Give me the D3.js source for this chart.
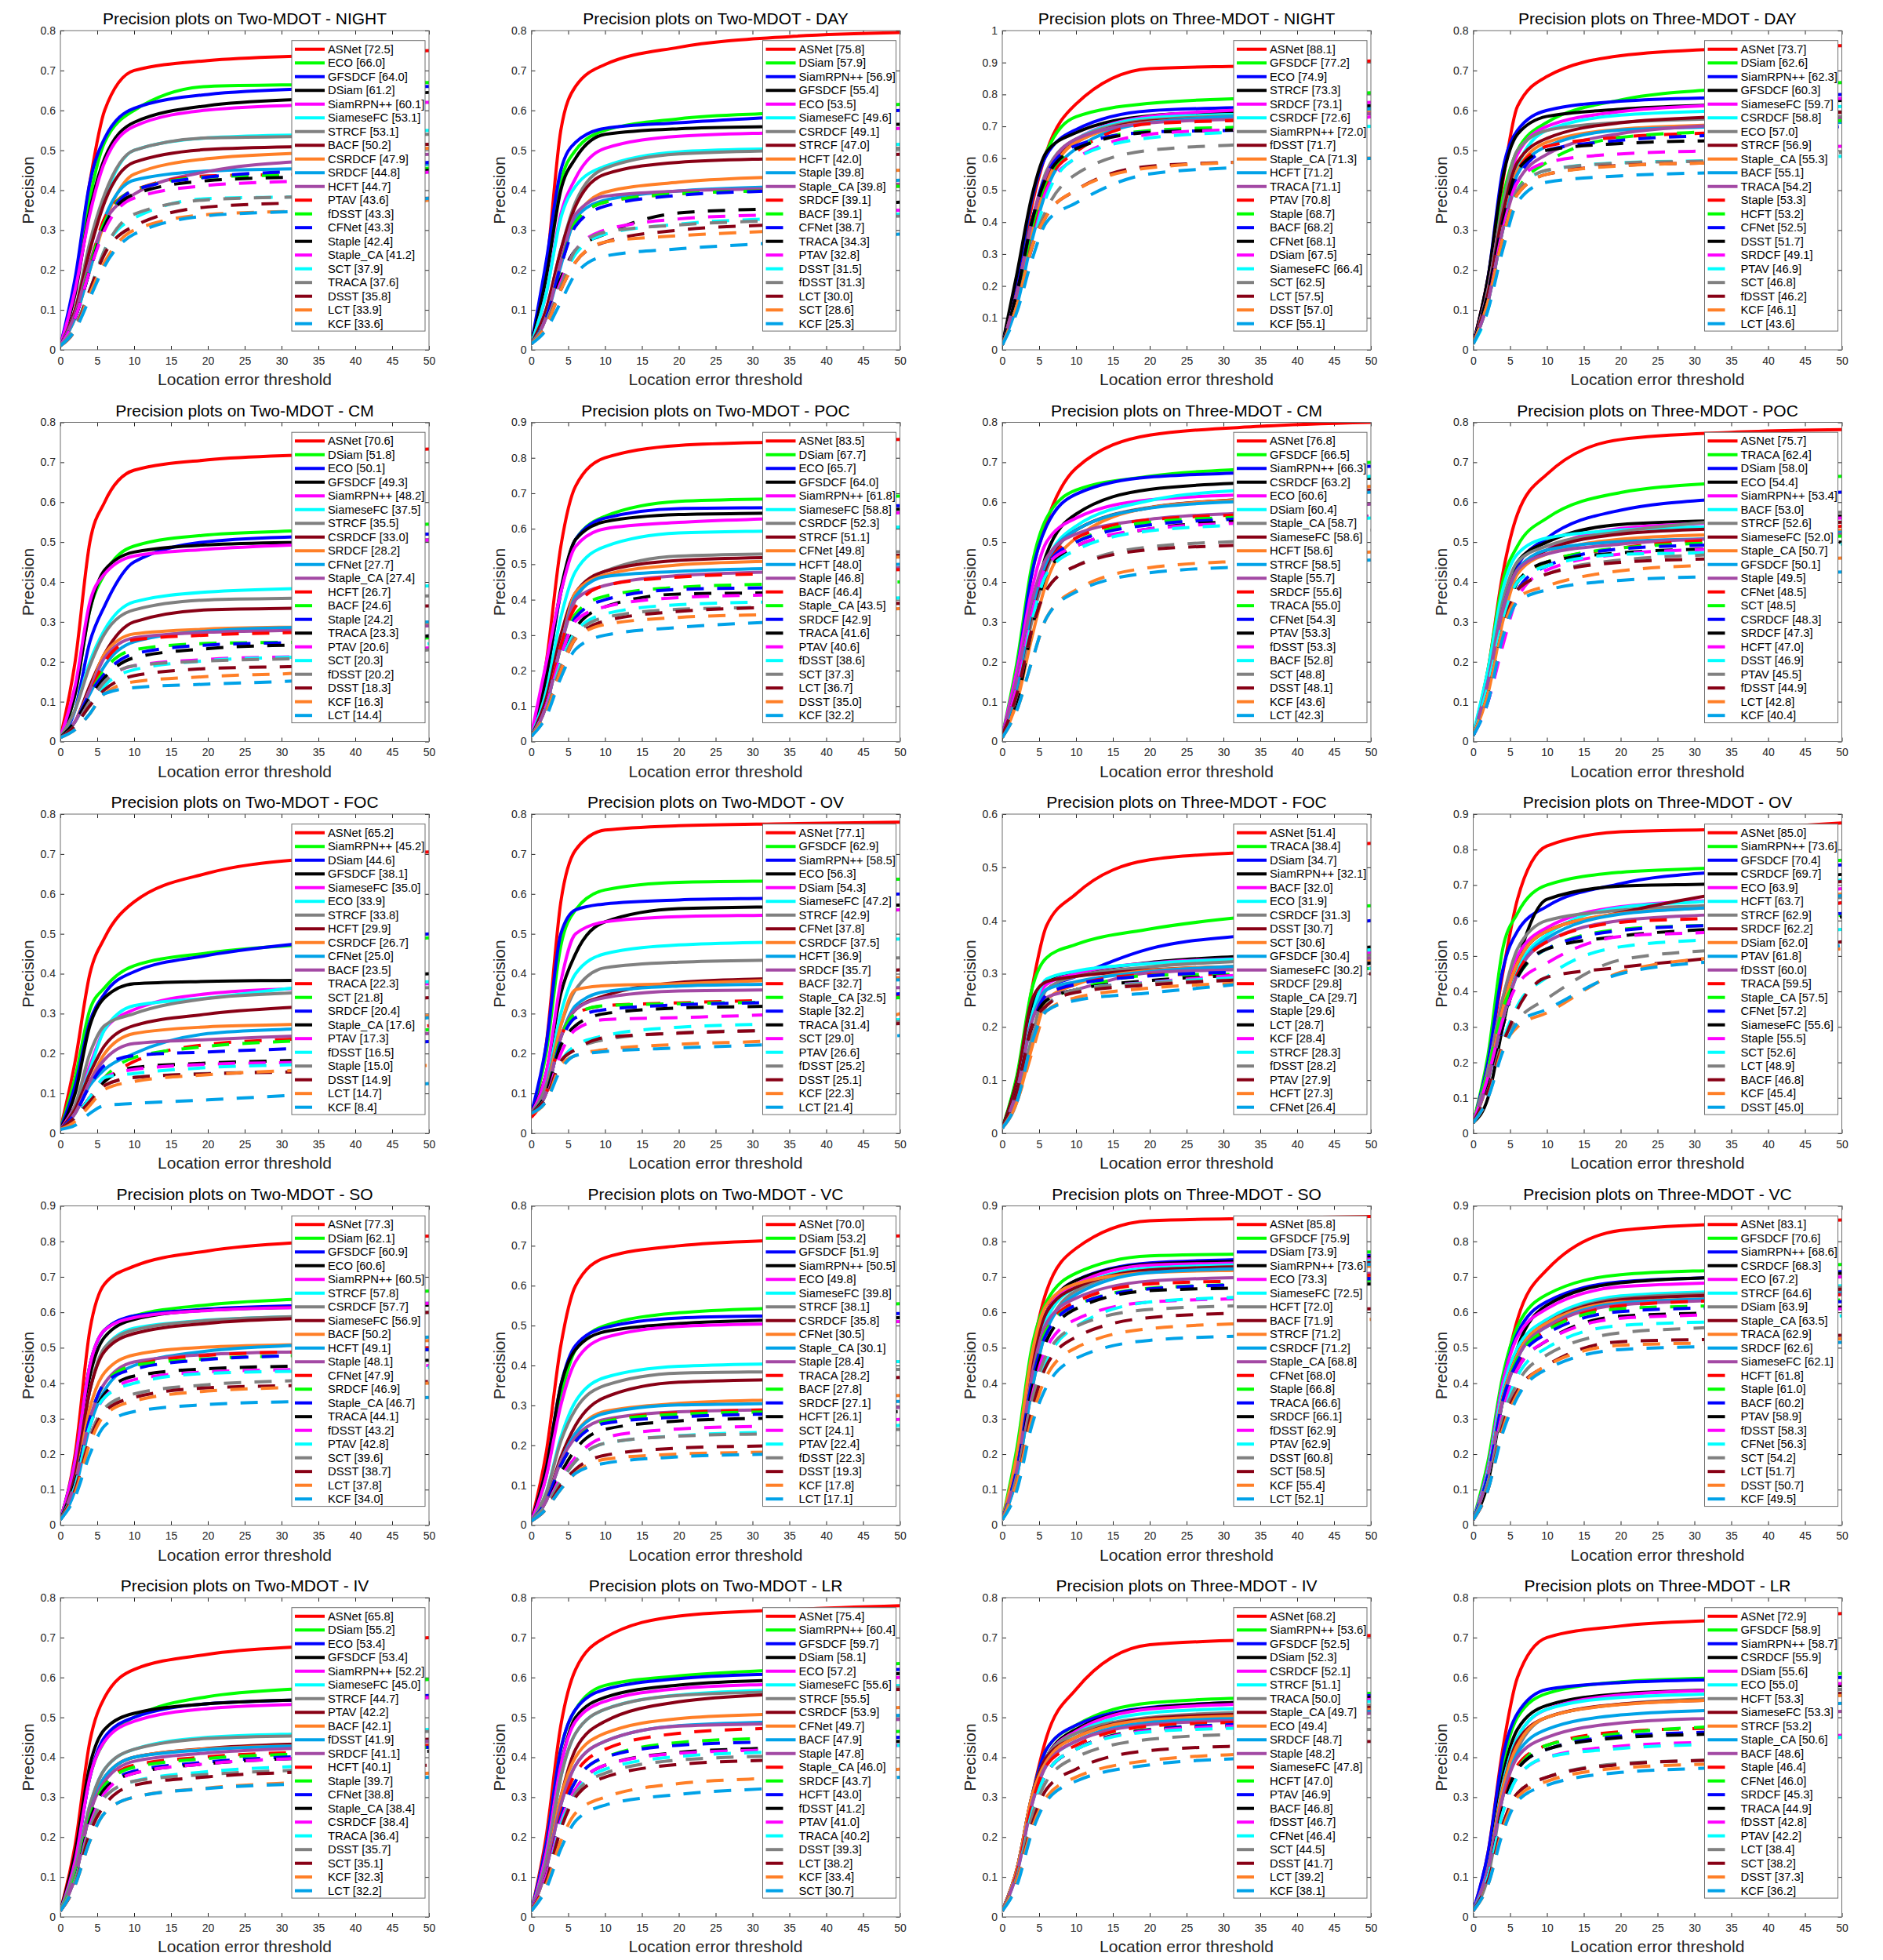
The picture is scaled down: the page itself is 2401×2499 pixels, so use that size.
<!DOCTYPE html>
<html>
<head>
<meta charset="utf-8">
<script src="https://cdn.jsdelivr.net/npm/d3@7"></script>
<style>
  body { margin: 0; background: #fff; }
  text { font-family: "Liberation Sans", Arial, Helvetica, sans-serif; }
</style>
</head>
<body>
<svg width="2401" height="2499"></svg>
<script>
var thresholds = [0, 2, 4, 6, 10, 20, 35, 50];

var titles = [
    "Two-MDOT - NIGHT", "Two-MDOT - DAY", "Three-MDOT - NIGHT", "Three-MDOT - DAY",
    "Two-MDOT - CM", "Two-MDOT - POC", "Three-MDOT - CM", "Three-MDOT - POC",
    "Two-MDOT - FOC", "Two-MDOT - OV", "Three-MDOT - FOC", "Three-MDOT - OV",
    "Two-MDOT - SO", "Two-MDOT - VC", "Three-MDOT - SO", "Three-MDOT - VC",
    "Two-MDOT - IV", "Two-MDOT - LR", "Three-MDOT - IV", "Three-MDOT - LR"
];

var yMaxes = [0.8, 0.8, 1, 0.8, 0.8, 0.9, 0.8, 0.8, 0.8, 0.8, 0.6, 0.9, 0.9, 0.8, 0.9, 0.9, 0.8, 0.8, 0.8, 0.8];

// legend order (rank) for every panel
var trackers = [
    ["ASNet", "ECO", "GFSDCF", "DSiam", "SiamRPN++", "SiameseFC", "STRCF", "BACF", "CSRDCF", "SRDCF", "HCFT", "PTAV", "fDSST", "CFNet", "Staple", "Staple_CA", "SCT", "TRACA", "DSST", "LCT", "KCF"],
    ["ASNet", "DSiam", "SiamRPN++", "GFSDCF", "ECO", "SiameseFC", "CSRDCF", "STRCF", "HCFT", "Staple", "Staple_CA", "SRDCF", "BACF", "CFNet", "TRACA", "PTAV", "DSST", "fDSST", "LCT", "SCT", "KCF"],
    ["ASNet", "GFSDCF", "ECO", "STRCF", "SRDCF", "CSRDCF", "SiamRPN++", "fDSST", "Staple_CA", "HCFT", "TRACA", "PTAV", "Staple", "BACF", "CFNet", "DSiam", "SiameseFC", "SCT", "LCT", "DSST", "KCF"],
    ["ASNet", "DSiam", "SiamRPN++", "GFSDCF", "SiameseFC", "CSRDCF", "ECO", "STRCF", "Staple_CA", "BACF", "TRACA", "Staple", "HCFT", "CFNet", "DSST", "SRDCF", "PTAV", "SCT", "fDSST", "KCF", "LCT"],
    ["ASNet", "DSiam", "ECO", "GFSDCF", "SiamRPN++", "SiameseFC", "STRCF", "CSRDCF", "SRDCF", "CFNet", "Staple_CA", "HCFT", "BACF", "Staple", "TRACA", "PTAV", "SCT", "fDSST", "DSST", "KCF", "LCT"],
    ["ASNet", "DSiam", "ECO", "GFSDCF", "SiamRPN++", "SiameseFC", "CSRDCF", "STRCF", "CFNet", "HCFT", "Staple", "BACF", "Staple_CA", "SRDCF", "TRACA", "PTAV", "fDSST", "SCT", "LCT", "DSST", "KCF"],
    ["ASNet", "GFSDCF", "SiamRPN++", "CSRDCF", "ECO", "DSiam", "Staple_CA", "SiameseFC", "HCFT", "STRCF", "Staple", "SRDCF", "TRACA", "CFNet", "PTAV", "fDSST", "BACF", "SCT", "DSST", "KCF", "LCT"],
    ["ASNet", "TRACA", "DSiam", "ECO", "SiamRPN++", "BACF", "STRCF", "SiameseFC", "Staple_CA", "GFSDCF", "Staple", "CFNet", "SCT", "CSRDCF", "SRDCF", "HCFT", "DSST", "PTAV", "fDSST", "LCT", "KCF"],
    ["ASNet", "SiamRPN++", "DSiam", "GFSDCF", "SiameseFC", "ECO", "STRCF", "HCFT", "CSRDCF", "CFNet", "BACF", "TRACA", "SCT", "SRDCF", "Staple_CA", "PTAV", "fDSST", "Staple", "DSST", "LCT", "KCF"],
    ["ASNet", "GFSDCF", "SiamRPN++", "ECO", "DSiam", "SiameseFC", "STRCF", "CFNet", "CSRDCF", "HCFT", "SRDCF", "BACF", "Staple_CA", "Staple", "TRACA", "SCT", "PTAV", "fDSST", "DSST", "KCF", "LCT"],
    ["ASNet", "TRACA", "DSiam", "SiamRPN++", "BACF", "ECO", "CSRDCF", "DSST", "SCT", "GFSDCF", "SiameseFC", "SRDCF", "Staple_CA", "Staple", "LCT", "KCF", "STRCF", "fDSST", "PTAV", "HCFT", "CFNet"],
    ["ASNet", "SiamRPN++", "GFSDCF", "CSRDCF", "ECO", "HCFT", "STRCF", "SRDCF", "DSiam", "PTAV", "fDSST", "TRACA", "Staple_CA", "CFNet", "SiameseFC", "Staple", "SCT", "LCT", "BACF", "KCF", "DSST"],
    ["ASNet", "DSiam", "GFSDCF", "ECO", "SiamRPN++", "STRCF", "CSRDCF", "SiameseFC", "BACF", "HCFT", "Staple", "CFNet", "SRDCF", "Staple_CA", "TRACA", "fDSST", "PTAV", "SCT", "DSST", "LCT", "KCF"],
    ["ASNet", "DSiam", "GFSDCF", "SiamRPN++", "ECO", "SiameseFC", "STRCF", "CSRDCF", "CFNet", "Staple_CA", "Staple", "TRACA", "BACF", "SRDCF", "HCFT", "SCT", "PTAV", "fDSST", "DSST", "KCF", "LCT"],
    ["ASNet", "GFSDCF", "DSiam", "SiamRPN++", "ECO", "SiameseFC", "HCFT", "BACF", "STRCF", "CSRDCF", "Staple_CA", "CFNet", "Staple", "TRACA", "SRDCF", "fDSST", "PTAV", "DSST", "SCT", "KCF", "LCT"],
    ["ASNet", "GFSDCF", "SiamRPN++", "CSRDCF", "ECO", "STRCF", "DSiam", "Staple_CA", "TRACA", "SRDCF", "SiameseFC", "HCFT", "Staple", "BACF", "PTAV", "fDSST", "CFNet", "SCT", "LCT", "DSST", "KCF"],
    ["ASNet", "DSiam", "ECO", "GFSDCF", "SiamRPN++", "SiameseFC", "STRCF", "PTAV", "BACF", "fDSST", "SRDCF", "HCFT", "Staple", "CFNet", "Staple_CA", "CSRDCF", "TRACA", "DSST", "SCT", "KCF", "LCT"],
    ["ASNet", "SiamRPN++", "GFSDCF", "DSiam", "ECO", "SiameseFC", "STRCF", "CSRDCF", "CFNet", "BACF", "Staple", "Staple_CA", "SRDCF", "HCFT", "fDSST", "PTAV", "TRACA", "DSST", "LCT", "KCF", "SCT"],
    ["ASNet", "SiamRPN++", "GFSDCF", "DSiam", "CSRDCF", "STRCF", "TRACA", "Staple_CA", "ECO", "SRDCF", "Staple", "SiameseFC", "HCFT", "PTAV", "BACF", "fDSST", "CFNet", "SCT", "DSST", "LCT", "KCF"],
    ["ASNet", "GFSDCF", "SiamRPN++", "CSRDCF", "DSiam", "ECO", "HCFT", "SiameseFC", "STRCF", "Staple_CA", "BACF", "Staple", "CFNet", "SRDCF", "TRACA", "fDSST", "PTAV", "LCT", "SCT", "DSST", "KCF"]
];

// precision (%) at each threshold, one row per tracker in legend order
var twoNight = [
    [1, 17, 42, 60, 70, 72.5, 73.8, 75], [1, 15, 38, 52, 60, 66.0, 66.5, 67], [1, 18, 42, 53, 60.5, 64.0, 65.5, 66],
    [1, 14, 35, 48, 57, 61.2, 63, 64.5], [1, 15, 34, 47, 56, 60.1, 61.5, 62], [1, 10, 25, 38, 50, 53.1, 54, 55],
    [1, 10, 27, 39, 50, 53.1, 53.5, 54], [1, 10, 25, 37, 47, 50.2, 51, 51.5], [1, 8, 20, 32, 44, 47.9, 49.5, 50.5],
    [1, 8, 20, 33, 42.5, 44.8, 45.5, 46.5], [1, 9, 22, 32, 39, 44.7, 47.5, 49], [1, 8, 21, 33, 40, 43.6, 44, 45],
    [1, 8, 21, 32, 40, 43.3, 44, 45.5], [1, 8, 20, 31, 40, 43.3, 45, 47], [1, 8, 20, 31, 39, 42.4, 43.5, 45],
    [1, 8, 20, 30, 38, 41.2, 42.5, 44.5], [1, 6, 15, 25, 33, 37.9, 38.5, 42], [1, 6, 15, 25, 34, 37.6, 38.5, 40],
    [1, 5, 15, 24, 31, 35.8, 37, 38], [1, 5, 14, 22, 30, 33.9, 35, 37.5], [1, 5, 13, 21, 29, 33.6, 35, 38]
];
var twoDay = [
    [1.5, 20, 55, 66, 71.5, 75.8, 78.5, 79.5], [1.5, 18, 42, 50, 55, 57.9, 59.5, 61.5], [1.5, 22, 45, 52, 55.5, 56.9, 58.5, 60],
    [1.5, 18, 40, 48, 54, 55.4, 56, 56.5], [1.5, 14, 34, 43, 50.5, 53.5, 54.5, 55.5], [1.5, 14, 33, 41, 46, 49.6, 50.5, 51.5],
    [1.5, 10, 25, 37, 45.5, 49.1, 50, 50.5], [1.5, 10, 25, 36, 44, 47.0, 48, 49], [1.5, 8, 22, 33, 39.5, 42.0, 43.5, 45],
    [1.5, 8, 21, 33, 37.5, 39.8, 41, 42.5], [1.5, 8, 22, 34, 38.5, 39.8, 40.5, 41.5], [1.5, 8, 21, 32, 37, 39.1, 40, 41],
    [1.5, 8, 21, 32, 37, 39.1, 40, 41], [1.5, 8, 21, 31, 36, 38.7, 40, 41.5], [1.5, 7, 18, 25, 29, 34.3, 35.5, 37],
    [1.5, 7, 17, 25, 30, 32.8, 34, 35], [1.5, 7, 16, 24, 29, 31.5, 33, 34], [1.5, 7, 16, 25, 29.5, 31.3, 32.5, 33.5],
    [1.5, 6, 15, 22, 27, 30.0, 31.5, 33], [1.5, 6, 15, 22, 27, 28.6, 30, 32.5], [1.5, 5, 12, 19, 23.5, 25.3, 27, 29]
];
var threeNight = [
    [1.5, 20, 45, 62, 77, 88.1, 89, 90.5], [1.5, 22, 47, 62, 73, 77.2, 79, 80.5], [1.5, 22, 47, 61, 69, 74.9, 76, 76.5],
    [1.5, 24, 48, 62, 68, 73.3, 75, 76.5], [1.5, 18, 40, 55, 66, 73.1, 75.5, 77.5], [1.5, 16, 37, 54, 66, 72.6, 74, 75.5],
    [1.5, 18, 40, 56, 66, 72.0, 73.5, 74.5], [1.5, 18, 40, 54, 65, 71.7, 73, 74], [1.5, 16, 37, 52, 65, 71.3, 73, 74.5],
    [1.5, 14, 34, 50, 63, 71.2, 73.5, 75.5], [1.5, 18, 40, 55, 66, 71.1, 72.5, 74], [1.5, 16, 37, 52, 62, 70.8, 72, 73],
    [1.5, 16, 38, 53, 63, 68.7, 70, 72], [1.5, 18, 40, 55, 64, 68.2, 69, 72], [1.5, 18, 40, 54, 63, 68.1, 69, 70],
    [1.5, 14, 32, 50, 60, 67.5, 69.5, 73], [1.5, 14, 32, 48, 60, 66.4, 68.5, 70], [1.5, 14, 32, 44, 55, 62.5, 64.5, 66],
    [1.5, 14, 32, 42, 50, 57.5, 59, 60], [1.5, 14, 32, 42, 50, 57.0, 59, 60], [1.5, 12, 28, 40, 46, 55.1, 57.5, 60]
];
var threeDay = [
    [1.5, 18, 42, 61, 68.5, 73.7, 75.5, 76.2], [1.5, 16, 38, 50, 57, 62.6, 65.5, 67], [1.5, 18, 45, 55, 60, 62.3, 63.3, 64],
    [1.5, 18, 43, 54, 58.5, 60.3, 61.5, 62.5], [1.5, 15, 36, 49, 56, 59.7, 61.5, 63], [1.5, 12, 30, 46, 55, 58.8, 60, 61],
    [1.5, 15, 36, 50, 55, 57.0, 58, 58.5], [1.5, 14, 34, 47, 53, 56.9, 58.5, 59.5], [1.5, 12, 30, 45, 52, 55.3, 56.5, 57.5],
    [1.5, 12, 30, 44, 51, 55.1, 56, 57], [1.5, 12, 30, 42, 49, 54.2, 56.5, 58], [1.5, 12, 30, 45, 51, 53.3, 54.5, 55.5],
    [1.5, 12, 28, 40, 47, 53.2, 55, 57.5], [1.5, 14, 32, 43, 50, 52.5, 54, 56], [1.5, 14, 32, 45, 50, 51.7, 52.5, 53],
    [1.5, 12, 30, 42, 47, 49.1, 50, 51], [1.5, 10, 28, 40, 45, 46.9, 47.5, 48.5], [1.5, 12, 28, 40, 45, 46.8, 47.5, 49.5],
    [1.5, 12, 28, 39, 44, 46.2, 47, 48.5], [1.5, 12, 28, 39, 44, 46.1, 47, 48], [1.5, 10, 25, 37, 42, 43.6, 44.5, 45.5]
];
var twoCM = [
    [1, 20, 50, 60, 68, 70.6, 72, 73.3], [1, 12, 33, 42, 49, 51.8, 53, 54.5], [1, 8, 25, 34, 45, 50.1, 51.5, 52],
    [1, 12, 33, 43, 47.5, 49.3, 50, 50.5], [1, 14, 35, 42, 46.5, 48.2, 49.5, 50.5], [1, 8, 20, 28, 35, 37.5, 38.5, 39],
    [1, 8, 19, 27, 33, 35.5, 36, 36.5], [1, 5, 14, 22, 30, 33.0, 33.5, 34], [1, 5, 13, 22, 27, 28.2, 28.8, 29.5],
    [1, 5, 12, 19, 25, 27.7, 28.8, 30], [1, 5, 13, 21, 26, 27.4, 28, 29], [1, 5, 12, 20, 25.5, 26.7, 27.5, 28.5],
    [1, 5, 12, 18, 23, 24.6, 25, 26], [1, 5, 12, 17, 22, 24.2, 25, 26.5], [1, 5, 11, 16, 21, 23.3, 24.5, 26.5],
    [1, 4, 10, 15, 19, 20.6, 21.5, 23.5], [1, 4, 9, 14, 18, 20.3, 21.5, 24.5], [1, 4, 10, 15, 19, 20.2, 21, 23],
    [1, 4, 9, 13, 16.5, 18.3, 19, 22], [1, 3, 7, 12, 15, 16.3, 17.5, 21], [1, 3, 7, 12, 13.5, 14.4, 15.5, 18]
];
var twoPOC = [
    [1.5, 22, 55, 72, 80, 83.5, 84.5, 85.2], [1.5, 18, 42, 57, 63.5, 67.7, 68.5, 69.2], [1.5, 18, 42, 57, 63, 65.7, 66, 66.5],
    [1.5, 18, 43, 57, 62, 64.0, 64.5, 65.5], [2, 22, 42, 55, 60, 61.8, 63, 64.5], [1.5, 14, 35, 48, 55, 58.8, 59.5, 60.5],
    [1.5, 10, 27, 40, 48, 52.3, 53, 53.5], [1.5, 12, 30, 42, 48, 51.1, 52, 52.5], [1.5, 10, 27, 42, 47, 49.8, 51, 52],
    [1.5, 10, 27, 41, 46.5, 48.0, 49, 50], [1.5, 10, 27, 40, 44, 46.8, 48, 49], [1.5, 10, 27, 38, 44, 46.4, 47.5, 48.5],
    [1.5, 10, 24, 36, 41, 43.5, 44.5, 45], [1.5, 10, 24, 35, 40, 42.9, 43.5, 44.5], [1.5, 10, 22, 32, 38, 41.6, 42, 42.5],
    [1.5, 10, 24, 34, 38, 40.6, 41.5, 42.5], [1.5, 9, 22, 31, 36, 38.6, 39.5, 40.5], [1.5, 9, 21, 30, 35, 37.3, 38, 39],
    [1.5, 8, 20, 29, 34, 36.7, 38, 39], [1.5, 8, 20, 29, 33, 35.0, 36, 37.5], [1.5, 7, 18, 26, 30, 32.2, 34, 36]
];
var threeCM = [
    [1.5, 18, 42, 55, 68.5, 76.8, 79, 80], [1.5, 20, 44, 56, 63, 66.5, 68.5, 70], [1.5, 18, 42, 54, 62, 66.3, 67.5, 69],
    [1, 12, 32, 47, 57, 63.2, 65, 66], [1.5, 18, 38, 50, 56, 60.6, 62, 63], [1.5, 14, 33, 45, 54, 60.4, 63.5, 66.5],
    [1, 12, 30, 43, 53, 58.7, 61, 63], [1, 14, 32, 44, 53, 58.6, 61, 63], [1, 10, 26, 40, 51, 58.6, 61, 64],
    [1.5, 14, 33, 45, 53, 58.5, 60.5, 62.5], [1.5, 16, 35, 46, 52, 55.7, 57.5, 59.5], [1.5, 14, 32, 44, 51, 55.6, 57, 58],
    [1.5, 14, 32, 44, 50, 55.0, 56.5, 58.5], [1.5, 14, 32, 44, 50, 54.3, 56, 57], [1, 10, 28, 42, 49, 53.3, 55.5, 56.5],
    [1.5, 14, 32, 44, 49, 53.3, 55, 56.5], [1.5, 12, 30, 42, 48, 52.8, 54.5, 56], [1.5, 12, 28, 38, 44, 48.8, 50.5, 53],
    [1.5, 12, 28, 38, 44, 48.1, 49.5, 52], [1, 8, 20, 31, 38, 43.6, 45.5, 47.5], [1, 8, 20, 31, 37.5, 42.3, 44, 45.5]
];
var threePOC = [
    [1.5, 18, 42, 57, 67, 75.7, 77.5, 78.2], [1.5, 18, 40, 49, 56, 62.4, 65, 66.5], [1.5, 15, 34, 44, 51, 58.0, 61, 62.5],
    [1.5, 14, 34, 45, 50, 54.4, 55.5, 56.5], [1.5, 15, 33, 43, 48, 53.4, 55, 56], [2, 18, 38, 47, 51, 53.0, 54, 55],
    [1.5, 15, 35, 45, 49, 52.6, 55.5, 57.5], [1.5, 14, 33, 43, 48, 52.0, 53.5, 55], [1.5, 12, 30, 42, 47, 50.7, 52, 53],
    [1.5, 15, 33, 43, 48, 50.1, 51, 52.5], [1.5, 15, 33, 43, 47, 49.5, 51, 52], [1.5, 12, 30, 40, 45, 48.5, 51, 54],
    [1.5, 12, 28, 40, 45, 48.5, 50, 51.5], [1.5, 10, 25, 38, 44, 48.3, 49.5, 51], [1.5, 12, 28, 40, 45, 47.3, 48.5, 50],
    [1.5, 10, 24, 36, 43, 47.0, 48.5, 50.5], [1.5, 14, 30, 40, 44, 46.9, 47.5, 49.5], [1.5, 12, 28, 38, 42, 45.5, 47, 48],
    [1.5, 12, 28, 38, 42, 44.9, 46, 47.5], [1.5, 12, 28, 36, 39, 42.8, 44.5, 46], [1.5, 10, 26, 35, 38, 40.4, 41.5, 42.5]
];
var twoFOC = [
    [1, 18, 40, 49, 58, 65.2, 69, 70.5], [1, 14, 31, 36.5, 42, 45.2, 47.5, 49], [1, 12, 28, 35, 40.5, 44.6, 48, 50],
    [1, 10, 27, 34, 37.5, 38.1, 38.5, 40], [1, 7, 17, 26, 31, 35.0, 36.5, 37.5], [1, 6, 16, 26, 32, 33.9, 37, 38],
    [1, 7, 20, 27, 30, 33.8, 35.5, 36.5], [1, 6, 15, 22, 27, 29.9, 32, 34], [1, 5, 13, 20, 25, 26.7, 27.5, 29.5],
    [1, 5, 12, 16, 20, 25.0, 26.5, 29], [1, 5, 13, 18.5, 22.5, 23.5, 24.5, 25], [1, 4, 9, 13, 18, 22.3, 24, 27],
    [1, 4, 9, 14, 19, 21.8, 23.5, 26], [1, 5, 12, 17, 19.5, 20.4, 21.5, 23], [1, 4, 9, 13, 16.5, 17.6, 18.5, 20],
    [1, 4, 9, 14, 16, 17.3, 18, 20], [1, 4, 9, 14, 15, 16.5, 17.5, 20], [1, 4, 8, 12, 14, 15.0, 15.5, 16],
    [1, 4, 8, 12, 14, 14.9, 15.5, 16], [1, 3, 7, 11, 13, 14.7, 16, 17], [1, 2, 5, 7, 7.5, 8.4, 10, 12.5]
];
var twoOV = [
    [4, 22, 58, 71, 76, 77.1, 77.6, 78], [5, 20, 47, 56, 61, 62.9, 63.3, 63.7], [5, 22, 50, 56, 57.5, 58.5, 59, 60],
    [5, 15, 35, 45, 53, 56.3, 56.8, 57.2], [5, 15, 38, 50, 53, 54.3, 54.8, 56], [5, 12, 30, 40, 45, 47.2, 48, 48.7],
    [5, 12, 27, 36, 41.5, 42.9, 43.5, 44], [5, 10, 24, 31, 34.5, 37.8, 39, 41], [5, 10, 27, 36, 37, 37.5, 38.5, 39],
    [5, 10, 24, 32, 35.5, 36.9, 37.5, 38.5], [5, 10, 24, 31, 34, 35.7, 36, 36.5], [4, 10, 24, 30, 32, 32.7, 33.5, 34.5],
    [5, 10, 24, 30, 32, 32.5, 33, 34], [5, 10, 23, 29, 31, 32.2, 33, 35], [5, 10, 22, 27, 30, 31.4, 32, 33.5],
    [5, 9, 20, 26, 28.5, 29.0, 30, 32], [5, 9, 18, 22, 24.5, 26.6, 27.5, 28.5], [5, 9, 18, 21, 23.5, 25.2, 26, 28],
    [5, 9, 18, 21, 24, 25.1, 26, 27.5], [5, 8, 17, 19.5, 21, 22.3, 23.5, 30], [5, 8, 16, 19.5, 20.5, 21.4, 22.5, 24.5]
];
var threeFOC = [
    [1, 10, 27, 39, 45, 51.4, 53, 54.5], [1, 11, 27, 33, 35.5, 38.4, 41, 42.8], [1, 8, 22, 27, 29.5, 34.7, 37.5, 40],
    [1, 10, 24, 28.5, 30, 32.1, 33.5, 35], [1, 8, 22, 28, 30, 32.0, 33, 34], [1, 8, 22, 29, 30.5, 31.9, 33, 34.5],
    [1, 6, 18, 27, 29.5, 31.3, 32.5, 33.5], [1, 10, 25, 28.5, 29.5, 30.7, 31.5, 32], [1, 6, 16, 25, 28, 30.6, 31.5, 32.5],
    [1, 8, 21, 27, 28.5, 30.4, 31.5, 32], [1, 8, 21, 25.5, 27, 30.2, 31, 33], [1, 8, 20, 26, 28, 29.8, 30, 31],
    [1, 8, 20, 25, 27, 29.7, 30, 31], [1, 8, 20, 26, 28, 29.6, 30.5, 32], [1, 8, 20, 25, 27, 28.7, 30, 32],
    [1, 7, 18, 24, 27, 28.4, 30, 31], [1, 7, 18, 24, 27, 28.3, 29.5, 31], [1, 7, 18, 24, 27, 28.2, 29, 30],
    [1, 8, 20, 24, 26.5, 27.9, 29, 30], [1, 6, 15, 23, 25.5, 27.3, 28.5, 30.5], [1, 6, 17, 23, 25, 26.4, 28.5, 31.5]
];
var threeOV = [
    [3, 20, 45, 66, 81, 85.0, 85.8, 87.5], [3, 22, 52, 62, 70, 73.6, 75, 77], [3, 20, 46, 57, 64, 70.4, 74, 75.7],
    [3, 10, 30, 48, 66, 69.7, 70.5, 73], [3, 18, 38, 50, 58, 63.9, 66, 69], [3, 15, 32, 46, 56, 63.7, 66, 71.5],
    [3, 18, 38, 52, 60, 62.9, 64.5, 66.5], [3, 15, 35, 48, 57, 62.2, 68, 71], [3, 15, 35, 48, 57, 62.0, 64, 67.5],
    [3, 15, 32, 45, 55, 61.8, 64, 67], [3, 15, 32, 45, 54, 60.0, 62, 65], [3, 15, 32, 45, 54, 59.5, 61, 65],
    [3, 18, 35, 44, 52, 57.5, 59, 61.5], [3, 12, 30, 44, 52, 57.2, 59, 62], [3, 14, 30, 44, 52, 55.6, 58, 61],
    [3, 16, 32, 42, 48, 55.5, 57, 60], [3, 12, 26, 36, 44, 52.6, 55, 57.5], [3, 12, 26, 32, 38, 48.9, 52, 54],
    [3, 12, 25, 35, 44, 46.8, 50, 54], [3, 10, 24, 30, 34, 45.4, 50, 52], [3, 10, 23, 31, 35, 45.0, 49, 53]
];
var twoSO = [
    [1.5, 20, 55, 68, 73, 77.3, 80, 81.5], [1.5, 18, 45, 55, 59, 62.1, 64, 66], [1.5, 18, 45, 55, 59, 60.9, 62, 62.5],
    [1.5, 16, 42, 53, 58, 60.6, 61.5, 62], [1.5, 18, 45, 55, 58.5, 60.5, 61.5, 62.5], [1.5, 14, 38, 50, 55.5, 57.8, 59, 60],
    [1.5, 14, 38, 50, 55, 57.7, 59, 60], [1.5, 14, 38, 49, 54, 56.9, 58.5, 60], [1.5, 12, 33, 43, 48, 50.2, 51, 52],
    [1.5, 10, 28, 38, 45, 49.1, 51, 53], [1.5, 12, 30, 40, 46, 48.1, 49, 50], [1.5, 12, 30, 40, 45, 47.9, 49, 50],
    [1.5, 12, 30, 40, 45, 46.9, 48, 49.5], [1.5, 12, 30, 40, 44, 46.7, 48, 49.5], [1.5, 12, 28, 37, 42, 44.1, 45, 46.5],
    [1.5, 11, 28, 36, 41, 43.2, 44, 45], [1.5, 11, 28, 36, 40, 42.8, 43.5, 44.5], [1.5, 10, 25, 33, 37, 39.6, 41, 43],
    [1.5, 10, 24, 32, 36, 38.7, 39.5, 40.5], [1.5, 9, 23, 31, 35, 37.8, 39, 40], [1.5, 8, 20, 28, 32, 34.0, 35, 36]
];
var twoVC = [
    [1, 18, 45, 60, 67, 70.0, 71.5, 72.5], [1, 12, 32, 44, 50, 53.2, 54.5, 55.5], [1, 14, 35, 45, 49.5, 51.9, 52.5, 53],
    [1, 14, 35, 44, 48.5, 50.5, 51.5, 52], [1, 12, 30, 41, 47, 49.8, 50.5, 51], [1, 8, 22, 31, 37, 39.8, 40.5, 41],
    [1, 8, 21, 29, 35, 38.1, 38.5, 39], [1, 6, 17, 25, 32, 35.8, 36.5, 37], [1, 6, 16, 23, 28.5, 30.5, 31.5, 32.5],
    [1, 6, 16, 23, 28, 30.1, 30.5, 31], [1, 6, 16, 22, 26.5, 28.4, 29, 29.5], [1, 6, 15, 21, 26, 28.2, 29, 30],
    [1, 6, 15, 21, 26, 27.8, 28.5, 29.5], [1, 6, 15, 21, 25.5, 27.1, 28, 29], [1, 5, 13, 19, 24, 26.1, 27, 28.5],
    [1, 5, 12, 17, 22, 24.1, 25, 26.5], [1, 5, 11, 16, 20.5, 22.4, 23.5, 25], [1, 5, 11, 16, 20.5, 22.3, 23, 24],
    [1, 4, 10, 14, 17.5, 19.3, 20, 21], [1, 4, 9, 13, 16.5, 17.8, 18.5, 21], [1, 4, 9, 13, 15.5, 17.1, 18, 20]
];
var threeSO = [
    [1.5, 20, 48, 66, 78, 85.8, 86.5, 87], [1.5, 22, 50, 63, 71, 75.9, 76.5, 77], [1.5, 18, 45, 60, 69, 73.9, 75, 76],
    [1.5, 18, 45, 60, 69, 73.6, 74.5, 75.5], [1.5, 18, 45, 60, 68, 73.3, 74, 75], [1.5, 16, 42, 58, 67, 72.5, 73.5, 74.5],
    [1.5, 14, 38, 55, 66, 72.0, 73, 74], [1.5, 18, 45, 60, 67, 71.9, 73, 74], [1.5, 20, 48, 62, 68, 71.2, 72, 73],
    [1.5, 14, 38, 55, 65, 71.2, 72.5, 73.5], [1.5, 16, 42, 57, 64, 68.8, 70, 71], [1.5, 16, 40, 55, 63, 68.0, 69, 70.5],
    [1.5, 16, 40, 55, 62, 66.8, 68, 69], [1.5, 16, 40, 54, 62, 66.6, 68, 69.5], [1.5, 14, 38, 52, 61, 66.1, 67, 68],
    [1.5, 14, 36, 50, 58, 62.9, 64, 65], [1.5, 12, 32, 46, 56, 62.9, 64.5, 66], [1.5, 14, 35, 48, 56, 60.8, 62, 63],
    [1.5, 12, 32, 45, 53, 58.5, 60, 61], [1.5, 12, 30, 42, 50, 55.4, 57, 58], [1.5, 10, 28, 39, 47, 52.1, 53.5, 55]
];
var threeVC = [
    [1.5, 16, 40, 58, 72, 83.1, 85, 86], [1.5, 18, 42, 56, 65, 70.6, 72, 73.5], [1.5, 16, 40, 54, 63, 68.6, 70, 71.5],
    [1.5, 12, 35, 50, 62, 68.3, 70, 71], [1.5, 16, 40, 53, 61, 67.2, 68.5, 70], [1.5, 15, 38, 50, 58, 64.6, 66, 67.5],
    [1.5, 14, 35, 48, 57, 63.9, 65.5, 67], [1.5, 14, 36, 48, 57, 63.5, 65, 66.5], [1.5, 14, 36, 48, 57, 62.9, 64, 65.5],
    [1.5, 14, 35, 47, 56, 62.6, 64, 65.5], [1.5, 14, 35, 47, 56, 62.1, 63.5, 65], [1.5, 12, 32, 45, 55, 61.8, 63.5, 65],
    [1.5, 14, 35, 47, 55, 61.0, 62, 63.5], [1.5, 14, 35, 46, 54, 60.2, 61.5, 63], [1.5, 12, 32, 44, 52, 58.9, 60, 61.5],
    [1.5, 12, 32, 44, 52, 58.3, 59.5, 61], [1.5, 12, 30, 42, 50, 56.3, 57.5, 59], [1.5, 12, 30, 40, 48, 54.2, 56, 58],
    [1.5, 10, 28, 38, 45, 51.7, 52.5, 53.5], [1.5, 10, 27, 37, 45, 50.7, 51.5, 52.5], [1.5, 10, 26, 36, 44, 49.5, 50.5, 51.5]
];
var twoIV = [
    [1.5, 18, 44, 55, 62, 65.8, 68, 70], [1.5, 14, 35, 44, 50, 55.2, 57.5, 59.5], [1.5, 14, 35, 45, 50, 53.4, 54.5, 55.5],
    [1.5, 16, 38, 47, 51, 53.4, 54.5, 55], [1.5, 14, 35, 44, 49, 52.2, 53.5, 55], [1.5, 12, 28, 37, 42, 45.0, 46, 47],
    [1.5, 12, 28, 37, 42, 44.7, 45.5, 46.5], [1.5, 10, 26, 35, 40, 42.2, 43.5, 44.5], [1.5, 10, 26, 35, 40, 42.1, 43, 44],
    [1.5, 10, 26, 35, 40, 41.9, 43, 44], [1.5, 10, 26, 34, 39, 41.1, 42.5, 44], [1.5, 9, 24, 33, 38, 40.1, 41.5, 43],
    [1.5, 10, 25, 33, 37.5, 39.7, 41, 42.5], [1.5, 9, 24, 32, 36.5, 38.8, 40.5, 42.5], [1.5, 9, 24, 32, 36, 38.4, 40, 41.5],
    [1.5, 9, 23, 31, 36, 38.4, 40, 41.5], [1.5, 9, 22, 30, 34, 36.4, 38, 40], [1.5, 9, 22, 30, 34, 35.7, 37, 38.5],
    [1.5, 8, 21, 28, 33, 35.1, 36.5, 38], [1.5, 8, 19, 26, 30, 32.3, 34, 36], [1.5, 8, 19, 26, 30, 32.2, 33.5, 35]
];
var twoLR = [
    [1.5, 20, 48, 62, 70, 75.4, 77, 78], [1.5, 18, 42, 52, 58, 60.4, 62, 63.5], [1.5, 18, 42, 52, 57, 59.7, 61, 62],
    [1.5, 16, 38, 50, 55, 58.1, 59.5, 61], [1.5, 16, 38, 49, 54, 57.2, 58.5, 60], [1.5, 14, 35, 46, 52, 55.6, 57, 58],
    [1.5, 14, 35, 46, 52, 55.5, 56.5, 57.5], [1.5, 12, 30, 42, 49, 53.9, 56, 57], [1.5, 12, 30, 40, 46, 49.7, 51, 52.5],
    [1.5, 12, 28, 38, 44, 47.9, 49, 50.5], [1.5, 12, 28, 38, 44, 47.8, 48.5, 49.5], [1.5, 10, 26, 36, 42, 46.0, 47.5, 49],
    [1.5, 10, 25, 34, 40, 43.7, 45, 46.5], [1.5, 10, 25, 34, 40, 43.0, 44, 45], [1.5, 10, 24, 32, 38, 41.2, 42.5, 44],
    [1.5, 10, 24, 32, 38, 41.0, 42, 43], [1.5, 9, 23, 31, 37, 40.2, 41.5, 43], [1.5, 9, 22, 31, 36, 39.3, 40.5, 42],
    [1.5, 9, 22, 30, 35, 38.2, 39.5, 41], [1.5, 8, 19, 26, 30, 33.4, 35, 37], [1.5, 7, 17, 24, 28, 30.7, 32.5, 35]
];
var threeIV = [
    [1.5, 12, 30, 45, 57, 68.2, 69.5, 70.5], [1.5, 12, 30, 42, 48, 53.6, 55, 56], [1.5, 12, 30, 42, 48, 52.5, 54, 55.5],
    [1.5, 12, 30, 40, 47, 52.3, 54, 55], [1.5, 12, 30, 40, 46.5, 52.1, 53.5, 54.5], [1.5, 12, 30, 40, 46, 51.1, 52.5, 54],
    [1.5, 12, 30, 40, 46, 50.0, 51.5, 53], [1.5, 12, 30, 40, 45, 49.7, 51, 52.5], [1.5, 12, 30, 39, 45, 49.4, 50.5, 52],
    [1.5, 11, 28, 38, 44, 48.7, 50, 51.5], [1.5, 11, 28, 38, 44, 48.2, 49.5, 51], [1.5, 11, 28, 38, 43, 47.8, 49, 50.5],
    [1.5, 10, 26, 36, 42, 47.0, 48.5, 50], [1.5, 10, 26, 36, 42, 46.9, 48.5, 50], [1.5, 10, 26, 36, 42, 46.8, 48, 49.5],
    [1.5, 10, 26, 36, 42, 46.7, 48, 49], [1.5, 10, 26, 36, 42, 46.4, 47.5, 49], [1.5, 10, 25, 34, 40, 44.5, 46, 47],
    [1.5, 9, 23, 32, 37, 41.7, 43, 44], [1.5, 9, 22, 30, 35, 39.2, 41, 42.5], [1.5, 8, 21, 29, 34, 38.1, 40, 42]
];
var threeLR = [
    [1.5, 16, 42, 60, 70, 72.9, 74.5, 76], [1.5, 14, 38, 50, 56, 58.9, 60, 61], [1.5, 16, 40, 51, 57, 58.7, 59.5, 60],
    [1.5, 12, 35, 47, 53, 55.9, 57, 58], [1.5, 12, 33, 45, 52, 55.6, 57, 58.5], [1.5, 12, 33, 45, 52, 55.0, 56, 57],
    [1.5, 10, 30, 42, 50, 53.3, 55, 57], [1.5, 12, 32, 44, 50, 53.3, 54.5, 56], [1.5, 12, 32, 43, 50, 53.2, 54.5, 55.5],
    [1.5, 12, 30, 41, 47, 50.6, 52, 53.5], [1.5, 12, 30, 40, 45, 48.6, 50, 51.5], [1.5, 10, 28, 38, 43, 46.4, 47.5, 49],
    [1.5, 10, 27, 37, 43, 46.0, 48, 50], [1.5, 10, 27, 37, 42, 45.3, 46.5, 48], [1.5, 10, 27, 37, 42, 44.9, 46, 47.5],
    [1.5, 10, 26, 35, 40, 42.8, 44, 45.5], [1.5, 10, 26, 35, 40, 42.2, 43.5, 45], [1.5, 9, 23, 31, 35, 38.4, 39.5, 41],
    [1.5, 9, 23, 31, 35, 38.2, 39.5, 41], [1.5, 8, 22, 30, 34, 37.3, 38.5, 40], [1.5, 8, 21, 29, 33, 36.2, 37.5, 39]
];

var curves = [twoNight, twoDay, threeNight, threeDay, twoCM, twoPOC, threeCM, threePOC,
    twoFOC, twoOV, threeFOC, threeOV, twoSO, twoVC, threeSO, threeVC, twoIV, twoLR, threeIV, threeLR];

// rank colours: first 11 solid, the rest dashed with the same cycle
var palette = ["#ff0000", "#00ff00", "#0000ff", "#000000", "#ff00ff", "#00ffff",
    "#808080", "#880015", "#ff7f27", "#00a2e8", "#a349a4"];

var svg = d3.select("svg");
var plotW = 470, plotH = 407;
var axisColor = "#262626";
var fmt = d3.format(".1f");

var line = d3.line()
    .x(function (d) { return d[0]; })
    .y(function (d) { return d[1]; })
    .curve(d3.curveMonotoneX);

function styleAxis(sel) {
    sel.select(".domain").remove();
    sel.selectAll(".tick line").attr("stroke", axisColor);
    sel.selectAll("text")
        .attr("font-size", 14)
        .attr("fill", axisColor)
        .attr("font-family", "'Liberation Sans', Arial, sans-serif");
}

titles.forEach(function (title, k) {
    var col = k % 4, row = Math.floor(k / 4);
    var g = svg.append("g")
        .attr("transform", "translate(" + (77 + col * 600.5) + "," + (39 + row * 499.5) + ")");

    var x = d3.scaleLinear().domain([0, 50]).range([0, plotW]);
    var y = d3.scaleLinear().domain([0, yMaxes[k]]).range([plotH, 0]);
    var xTicks = d3.range(0, 51, 5);
    var yTicks = d3.range(0, Math.round(yMaxes[k] * 10) + 1).map(function (i) { return i / 10; });

    g.append("clipPath").attr("id", "clip" + k)
        .append("rect").attr("width", plotW).attr("height", plotH);

    g.append("rect")
        .attr("width", plotW).attr("height", plotH)
        .attr("fill", "#fff");

    // axes, ticks pointing inwards on all four sides
    g.append("g").attr("transform", "translate(0," + plotH + ")")
        .call(d3.axisBottom(x).tickValues(xTicks).tickSizeInner(-5).tickSizeOuter(0).tickPadding(9))
        .call(styleAxis);
    g.append("g")
        .call(d3.axisTop(x).tickValues(xTicks).tickSizeInner(-5).tickSizeOuter(0).tickFormat(""))
        .call(styleAxis);
    g.append("g")
        .call(d3.axisLeft(y).tickValues(yTicks).tickSizeInner(-5).tickSizeOuter(0).tickPadding(6)
            .tickFormat(function (d) { return +d.toFixed(1); }))
        .call(styleAxis);
    g.append("g").attr("transform", "translate(" + plotW + ",0)")
        .call(d3.axisRight(y).tickValues(yTicks).tickSizeInner(-5).tickSizeOuter(0).tickFormat(""))
        .call(styleAxis);

    // curves, best first so weaker ones lie on top
    var lines = g.append("g").attr("clip-path", "url(#clip" + k + ")");
    curves[k].forEach(function (c, i) {
        lines.append("path")
            .datum(thresholds.map(function (t, j) { return [x(t), y(c[j] / 100)]; }))
            .attr("d", line)
            .attr("fill", "none")
            .attr("stroke", palette[i % 11])
            .attr("stroke-width", 4)
            .attr("stroke-dasharray", i >= 11 ? "22,17" : null);
    });

    g.append("rect")
        .attr("width", plotW).attr("height", plotH)
        .attr("fill", "none")
        .attr("stroke", "#6e6e6e")
        .attr("stroke-width", 1);

    // titles and labels
    g.append("text")
        .attr("x", plotW / 2).attr("y", -8)
        .attr("text-anchor", "middle")
        .attr("font-size", 21)
        .attr("fill", "#000")
        .text("Precision plots on " + title);
    g.append("text")
        .attr("x", plotW / 2).attr("y", plotH + 45)
        .attr("text-anchor", "middle")
        .attr("font-size", 21)
        .attr("fill", axisColor)
        .text("Location error threshold");
    g.append("text")
        .attr("transform", "translate(-34," + (plotH / 2) + ") rotate(-90)")
        .attr("text-anchor", "middle")
        .attr("font-size", 21)
        .attr("fill", axisColor)
        .text("Precision");

    // legend
    var names = trackers[k];
    var legW = 170, rowH = 17.5;
    var leg = g.append("g")
        .attr("transform", "translate(" + (plotW - 5 - legW) + ",12.7)");
    leg.append("rect")
        .attr("width", legW)
        .attr("height", 20.4 + (names.length - 1) * rowH)
        .attr("fill", "#fff")
        .attr("stroke", "#6e6e6e")
        .attr("stroke-width", 1);
    var item = leg.selectAll("g.item")
        .data(names)
        .enter().append("g")
        .attr("class", "item")
        .attr("transform", function (d, i) { return "translate(0," + (11 + i * rowH) + ")"; });
    item.append("line")
        .attr("x1", 4).attr("x2", 42)
        .attr("stroke", function (d, i) { return palette[i % 11]; })
        .attr("stroke-width", 4)
        .attr("stroke-dasharray", function (d, i) { return i >= 11 ? "22,17" : null; });
    item.append("text")
        .attr("x", 46).attr("dy", "0.35em")
        .attr("font-size", 14.8)
        .attr("fill", "#000")
        .text(function (d, i) { return d + " [" + fmt(curves[k][i][5]) + "]"; });
});
</script>
</body>
</html>
